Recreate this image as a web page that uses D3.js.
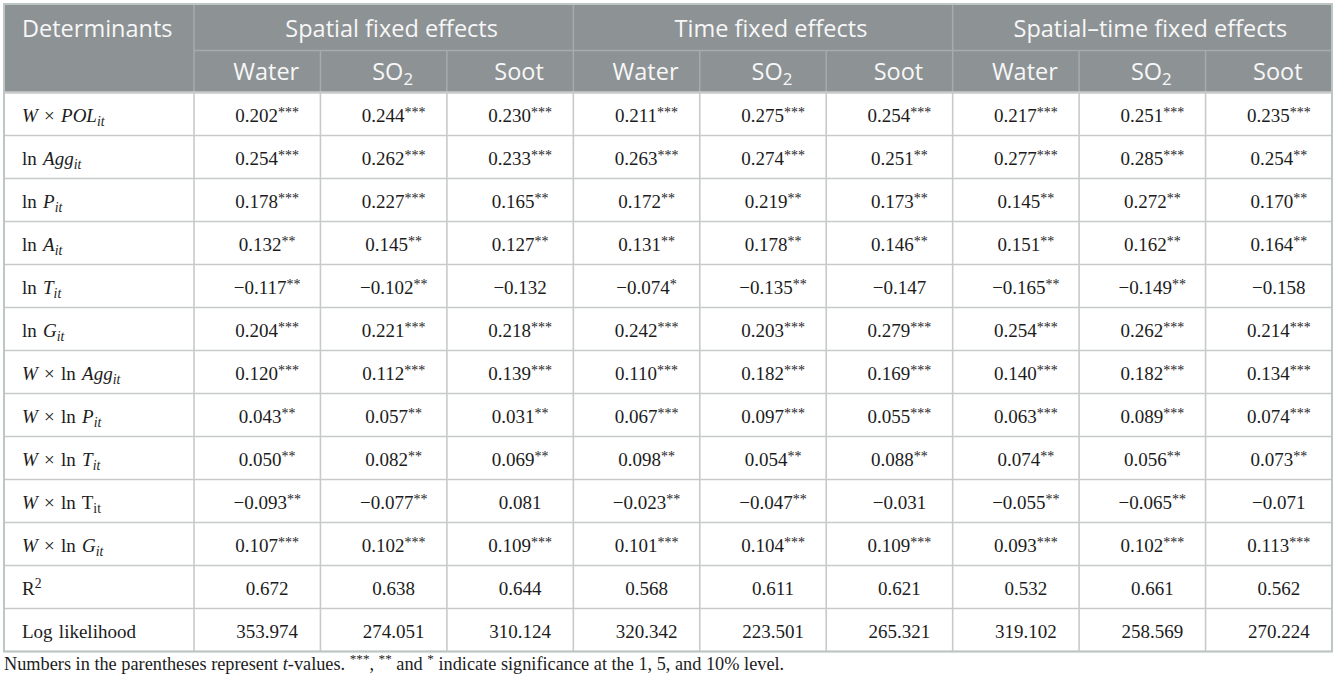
<!DOCTYPE html>
<html>
<head>
<meta charset="utf-8">
<script src="https://cdn.jsdelivr.net/npm/d3@7"></script>
<style>
  body { margin: 0; background: #fff; }
</style>
</head>
<body>
<div id="chart-area"></div>
<script>
// table data
const groups = ["Spatial fixed effects", "Time fixed effects", "Spatial–time fixed effects"]
const pollutants = ["Water", "SO~2~", "Soot"]

// *x* italic, _x_ italic subscript, ~x~ subscript, ^x^ superscript
const determinants = [
  "*W* × *POL*_it_",
  "ln *Agg*_it_",
  "ln *P*_it_",
  "ln *A*_it_",
  "ln *T*_it_",
  "ln *G*_it_",
  "*W* × ln *Agg*_it_",
  "*W* × ln *P*_it_",
  "*W* × ln *T*_it_",
  "*W* × ln T~it~",
  "*W* × ln *G*_it_",
  "R^2^",
  "Log likelihood"
]

// each row: Water, SO2, Soot
const spatialFE = [
  ["0.202***", "0.244***", "0.230***"],
  ["0.254***", "0.262***", "0.233***"],
  ["0.178***", "0.227***", "0.165**"],
  ["0.132**", "0.145**", "0.127**"],
  ["−0.117**", "−0.102**", "−0.132"],
  ["0.204***", "0.221***", "0.218***"],
  ["0.120***", "0.112***", "0.139***"],
  ["0.043**", "0.057**", "0.031**"],
  ["0.050**", "0.082**", "0.069**"],
  ["−0.093**", "−0.077**", "0.081"],
  ["0.107***", "0.102***", "0.109***"],
  ["0.672", "0.638", "0.644"],
  ["353.974", "274.051", "310.124"]
]
const timeFE = [
  ["0.211***", "0.275***", "0.254***"],
  ["0.263***", "0.274***", "0.251**"],
  ["0.172**", "0.219**", "0.173**"],
  ["0.131**", "0.178**", "0.146**"],
  ["−0.074*", "−0.135**", "−0.147"],
  ["0.242***", "0.203***", "0.279***"],
  ["0.110***", "0.182***", "0.169***"],
  ["0.067***", "0.097***", "0.055***"],
  ["0.098**", "0.054**", "0.088**"],
  ["−0.023**", "−0.047**", "−0.031"],
  ["0.101***", "0.104***", "0.109***"],
  ["0.568", "0.611", "0.621"],
  ["320.342", "223.501", "265.321"]
]
const spatialTimeFE = [
  ["0.217***", "0.251***", "0.235***"],
  ["0.277***", "0.285***", "0.254**"],
  ["0.145**", "0.272**", "0.170**"],
  ["0.151**", "0.162**", "0.164**"],
  ["−0.165**", "−0.149**", "−0.158"],
  ["0.254***", "0.262***", "0.214***"],
  ["0.140***", "0.182***", "0.134***"],
  ["0.063***", "0.089***", "0.074***"],
  ["0.074**", "0.056**", "0.073**"],
  ["−0.055**", "−0.065**", "−0.071"],
  ["0.093***", "0.102***", "0.113***"],
  ["0.532", "0.661", "0.562"],
  ["319.102", "258.569", "270.224"]
]
const footnote = "Numbers in the parentheses represent *t*-values. ^***^, ^**^ and ^*^ indicate significance at the 1, 5, and 10% level."

const W = 1337, H = 685
const TABLE = { LEFT: 4, RIGHT: 1332, TOP: 4, HEAD1: 50.5, HEAD: 92.5, BOTTOM: 651.5 }
const FIRST_COL = 194
const HEAD_BG = "#8d9295"
const HEAD_LINE = "#a6abad"
const GRID = "#c8caca"
const SANS = "'Open Sans', sans-serif"
const SERIF = "'Liberation Serif', 'Times New Roman', serif"
const BODY_SIZE = 19

const svg = d3.select("#chart-area").append("svg")
  .attr("width", W)
  .attr("height", H)

const allGroups = [spatialFE, timeFE, spatialTimeFE]
const colKeys = d3.range(groups.length * pollutants.length)

const groupScale = d3.scaleBand().domain(groups).range([FIRST_COL, TABLE.RIGHT])
const colScale = d3.scaleBand().domain(colKeys).range([FIRST_COL, TABLE.RIGHT])
const rowScale = d3.scaleBand().domain(d3.range(determinants.length)).range([TABLE.HEAD, TABLE.BOTTOM])

// write a tiny markup string into a text element as tspans
// (a raised/lowered piece shifts the next piece back to the baseline)
function rich(textSel, str, size) {
  const parts = str.split(/(\^[^^]+\^|\*[^*]+\*|_[^_]+_|~[^~]+~)/).filter(s => s.length)
  let back = 0
  parts.forEach(p => {
    const kind = p[0]
    let ts
    if (kind === "*" && p.length > 2) {
      ts = textSel.append("tspan").attr("font-style", "italic").text(p.slice(1, -1))
      if (back) ts.attr("dy", back)
      back = 0
    } else if (kind === "_" || kind === "~") {
      const shift = size * 0.22
      ts = textSel.append("tspan")
        .attr("font-style", kind === "_" ? "italic" : "normal")
        .attr("font-size", size * 0.72)
        .attr("dy", back + shift)
        .text(p.slice(1, -1))
      back = -shift
    } else if (kind === "^") {
      const shift = -size * 0.36
      ts = textSel.append("tspan")
        .attr("font-size", size * 0.72)
        .attr("dy", back + shift)
        .text(p.slice(1, -1))
      back = -shift
    } else {
      ts = textSel.append("tspan").text(p)
      if (back) ts.attr("dy", back)
      back = 0
    }
  })
}

// header background
svg.append("rect")
  .attr("x", TABLE.LEFT)
  .attr("y", TABLE.TOP)
  .attr("width", TABLE.RIGHT - TABLE.LEFT)
  .attr("height", TABLE.HEAD - TABLE.TOP)
  .attr("fill", HEAD_BG)

// header lines
svg.append("line")
  .attr("x1", FIRST_COL).attr("x2", TABLE.RIGHT)
  .attr("y1", TABLE.HEAD1).attr("y2", TABLE.HEAD1)
  .attr("stroke", HEAD_LINE).attr("stroke-width", 1.5)

svg.selectAll(".head-vline")
  .data(colKeys)
  .enter().append("line")
  .attr("class", "head-vline")
  .attr("x1", d => colScale(d)).attr("x2", d => colScale(d))
  .attr("y1", d => d % pollutants.length === 0 ? TABLE.TOP : TABLE.HEAD1)
  .attr("y2", TABLE.HEAD)
  .attr("stroke", HEAD_LINE).attr("stroke-width", 1.5)

svg.append("text")
  .attr("x", TABLE.LEFT + 18)
  .attr("y", 37)
  .attr("font-family", SANS)
  .attr("font-size", 23.5)
  .attr("fill", "#f7f7f7")
  .text("Determinants")

svg.selectAll(".group-label")
  .data(groups)
  .enter().append("text")
  .attr("class", "group-label")
  .attr("x", d => groupScale(d) + groupScale.bandwidth() / 2 + 8)
  .attr("y", 37)
  .attr("text-anchor", "middle")
  .attr("font-family", SANS)
  .attr("font-size", 23.5)
  .attr("fill", "#f7f7f7")
  .text(d => d)

svg.selectAll(".pol-label")
  .data(colKeys)
  .enter().append("text")
  .attr("class", "pol-label")
  .attr("x", d => colScale(d) + colScale.bandwidth() / 2 + 9)
  .attr("y", 80)
  .attr("text-anchor", "middle")
  .attr("font-family", SANS)
  .attr("font-size", 23.5)
  .attr("fill", "#f7f7f7")
  .each(function(d) { rich(d3.select(this), pollutants[d % pollutants.length], 23.5) })

// body grid
svg.selectAll(".hline")
  .data(d3.range(determinants.length + 1))
  .enter().append("line")
  .attr("class", "hline")
  .attr("x1", TABLE.LEFT).attr("x2", TABLE.RIGHT)
  .attr("y1", d => d < determinants.length ? rowScale(d) : TABLE.BOTTOM)
  .attr("y2", d => d < determinants.length ? rowScale(d) : TABLE.BOTTOM)
  .attr("stroke", GRID)
  .attr("stroke-width", d => d === 0 ? 2.5 : 1.6)

svg.selectAll(".vline")
  .data(colKeys)
  .enter().append("line")
  .attr("class", "vline")
  .attr("x1", d => colScale(d)).attr("x2", d => colScale(d))
  .attr("y1", TABLE.HEAD).attr("y2", TABLE.BOTTOM)
  .attr("stroke", GRID).attr("stroke-width", 1.6)

// row labels
svg.selectAll(".row-label")
  .data(determinants)
  .enter().append("text")
  .attr("class", "row-label")
  .attr("x", TABLE.LEFT + 18)
  .attr("y", (d, i) => rowScale(i) + 29)
  .attr("font-family", SERIF)
  .attr("font-size", BODY_SIZE)
  .attr("fill", "#1c1c1c")
  .attr("word-spacing", 1.5)
  .each(function(d) { rich(d3.select(this), d, BODY_SIZE) })

// cells
const cells = []
allGroups.forEach((g, gi) => {
  g.forEach((row, ri) => {
    row.forEach((v, pi) => cells.push({ row: ri, col: gi * pollutants.length + pi, value: v }))
  })
})

svg.selectAll(".cell")
  .data(cells)
  .enter().append("text")
  .attr("class", "cell")
  .attr("x", d => colScale(d.col) + colScale.bandwidth() / 2 + 10)
  .attr("y", d => rowScale(d.row) + 29)
  .attr("text-anchor", "middle")
  .attr("font-family", SERIF)
  .attr("font-size", BODY_SIZE)
  .attr("fill", "#1c1c1c")
  .each(function(d) {
    const m = d.value.match(/^([^*]+)(\**)$/)
    const t = d3.select(this)
    t.append("tspan").text(m[1])
    if (m[2]) {
      t.append("tspan").attr("font-size", 14).attr("dy", -5).text(m[2])
    }
  })

// outer border
svg.append("rect")
  .attr("x", TABLE.LEFT)
  .attr("y", TABLE.TOP)
  .attr("width", TABLE.RIGHT - TABLE.LEFT)
  .attr("height", TABLE.BOTTOM - TABLE.TOP)
  .attr("fill", "none")
  .attr("stroke", "#bcc6c3")
  .attr("stroke-width", 2)

// footnote
svg.append("text")
  .attr("x", TABLE.LEFT)
  .attr("y", 670)
  .attr("font-family", SERIF)
  .attr("font-size", 18.3)
  .attr("fill", "#1c1c1c")
  .each(function() { rich(d3.select(this), footnote, 18.3) })
</script>
</body>
</html>
